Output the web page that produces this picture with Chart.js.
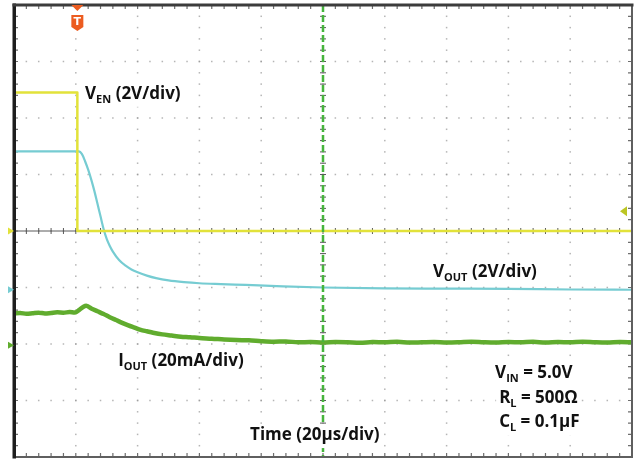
<!DOCTYPE html>
<html>
<head>
<meta charset="utf-8">
<script src="https://cdn.jsdelivr.net/npm/chart.js@4.4.0/dist/chart.umd.min.js"></script>
<style>
  html, body { margin: 0; padding: 0; background: #ffffff; }
  canvas { display: block; }
</style>
</head>
<body>
<canvas id="scope" width="637" height="462"></canvas>
<script>
// ---- Waveform capture: time in µs, 20 µs/div, 10 divisions ----
const timeRange = [0, 200];
const divisionsY = [-4, 4];

// CH1: enable voltage (V)
const enTime  = [0, 20.5, 20.5, 200];
const enVolts = [4.9, 4.9, 0, 0];

// CH2: output voltage (V)
const outTime  = [0, 21, 22, 23, 24, 25, 26, 27, 28, 29, 30, 31, 32, 34, 36, 38, 40, 43, 46, 50, 55, 60, 67, 75, 85, 100, 120, 140, 160, 180, 200];
const outVolts = [4.9, 4.9, 4.8, 4.55, 4.25, 3.9, 3.5, 3.05, 2.6, 2.15, 1.8, 1.55, 1.35, 1.05, 0.86, 0.72, 0.62, 0.5, 0.41, 0.33, 0.27, 0.23, 0.2, 0.17, 0.13, 0.08, 0.05, 0.04, 0.03, 0.01, 0.0];

// CH3: output current (mA)
const curTime = [0, 2, 4, 6, 8, 10, 12, 14, 16, 18, 20, 21, 22.5, 23.5, 25, 27, 29, 31, 33, 35, 37, 39, 41, 43, 45, 48, 51, 54, 57, 60, 64, 68, 72, 76, 80, 84, 88, 92, 96, 100, 104, 108, 112, 116, 120, 124, 128, 132, 136, 140, 144, 148, 152, 156, 160, 164, 168, 172, 176, 180, 184, 188, 192, 196, 200];
const curMilliamps = [11.2, 11.4, 11.1, 11.3, 11.5, 11.2, 11.4, 11.6, 11.5, 11.7, 11.6, 12.4, 13.6, 13.9, 13.0, 12.0, 11.0, 9.9, 8.9, 7.9, 7.0, 6.2, 5.4, 4.9, 4.4, 3.8, 3.4, 3.0, 2.8, 2.5, 2.3, 2.0, 1.8, 1.7, 1.4, 1.2, 1.3, 1.0, 1.1, 0.9, 1.1, 1.0, 0.8, 1.1, 1.0, 1.2, 0.9, 1.0, 1.1, 0.9, 1.0, 1.2, 1.0, 0.9, 1.1, 1.0, 1.2, 0.9, 1.1, 1.0, 1.2, 1.0, 0.9, 1.1, 1.0];

// Vertical settings per channel: units per division and ground position (div)
const channels = {
  en:  { perDiv: 2,  ground: 0,     color: 'rgb(226,226,58)' },
  out: { perDiv: 2,  ground: -1.04, color: 'rgb(118,204,210)' },
  cur: { perDiv: 20, ground: -2.02, color: 'rgb(96,172,46)' }
};

const triggerTime = 20.5;
const triggerLevelDiv = 0.35;

function toDivs(times, values, ch) {
  return times.map((t, i) => ({ x: t, y: values[i] / ch.perDiv + ch.ground }));
}

const labelFont = '"Open Sans", "Liberation Sans", sans-serif';
const labels = [
  { parts: [['V'], ['EN', 1], [' (2V/div)']], t: 23.0, d: 2.34 },
  { parts: [['V'], ['OUT', 1], [' (2V/div)']], t: 135.6, d: -0.81 },
  { parts: [['I'], ['OUT', 1], [' (20mA/div)']], t: 33.7, d: -2.39 },
  { parts: [['Time (20\u00b5s/div)']], t: 76.4, d: -3.70 },
  { parts: [['V'], ['IN', 1], [' = 5.0V']], t: 155.7, d: -2.60 },
  { parts: [['R'], ['L', 1], [' = 500\u03a9']], t: 157.0, d: -3.04 },
  { parts: [['C'], ['L', 1], [' = 0.1\u00b5F']], t: 157.0, d: -3.47 }
];

// Graticule: dotted division lines, ticked centre axes, ticked frame
const graticule = {
  id: 'graticule',
  beforeDatasetsDraw(chart) {
    const { ctx, chartArea: a, scales: { x, y } } = chart;
    const dx = (x.getPixelForValue(20) - x.getPixelForValue(0)) / 5;
    const dy = (y.getPixelForValue(0) - y.getPixelForValue(1)) / 5;
    ctx.save();
    ctx.fillStyle = 'rgba(150,150,150,0.7)';
    for (let t = 20; t < 200; t += 20) {
      const px = x.getPixelForValue(t);
      for (let py = a.top; py <= a.bottom; py += dy) ctx.fillRect(px - 0.75, py - 0.75, 1.5, 1.5);
    }
    for (let d = -3; d <= 3; d++) {
      const py = y.getPixelForValue(d);
      for (let px = a.left; px <= a.right; px += dx) ctx.fillRect(px - 0.75, py - 0.75, 1.5, 1.5);
    }
    // centre axes with minor ticks
    const cx = x.getPixelForValue(100), cy = y.getPixelForValue(0);
    ctx.strokeStyle = 'rgb(90,90,90)';
    ctx.lineWidth = 1;
    ctx.beginPath();
    ctx.moveTo(a.left, cy); ctx.lineTo(a.right, cy);
    for (let px = a.left; px <= a.right + 0.5; px += dx) { ctx.moveTo(px, cy - 3); ctx.lineTo(px, cy + 3); }
    for (let py = a.top; py <= a.bottom + 0.5; py += dy) { ctx.moveTo(cx - 3, py); ctx.lineTo(cx + 3, py); }
    ctx.stroke();
    // frame ticks
    ctx.strokeStyle = 'rgb(110,110,110)';
    ctx.lineWidth = 1.2;
    ctx.beginPath();
    for (let px = a.left; px <= a.right + 0.5; px += dx) {
      ctx.moveTo(px, a.top); ctx.lineTo(px, a.top + 4);
      ctx.moveTo(px, a.bottom); ctx.lineTo(px, a.bottom - 4);
    }
    for (let py = a.top; py <= a.bottom + 0.5; py += dy) {
      ctx.moveTo(a.left, py); ctx.lineTo(a.left + 4, py);
      ctx.moveTo(a.right, py); ctx.lineTo(a.right - 4, py);
    }
    ctx.stroke();
    ctx.restore();
  },
  afterDatasetsDraw(chart) {
    const { ctx, chartArea: a, scales: { x, y } } = chart;
    ctx.save();
    // trigger position line
    const cx = x.getPixelForValue(100);
    ctx.strokeStyle = 'rgb(70,180,60)';
    ctx.lineWidth = 2.5;
    ctx.setLineDash([7, 3]);
    ctx.beginPath(); ctx.moveTo(cx, a.top); ctx.lineTo(cx, a.bottom); ctx.stroke();
    ctx.setLineDash([]);
    // frame
    ctx.strokeStyle = 'rgb(95,95,95)';
    ctx.lineWidth = 2;
    ctx.strokeRect(a.left, a.top, a.right - a.left, a.bottom - a.top);
    ctx.fillStyle = 'rgb(30,30,30)';
    ctx.fillRect(a.left - 1.5, a.top - 1.5, 3.5, a.bottom - a.top + 3);
    ctx.fillStyle = 'rgb(60,60,60)';
    ctx.fillRect(a.left - 1.5, a.top - 1.5, a.right - a.left + 3, 3);
    // trigger marker
    const tx = x.getPixelForValue(triggerTime);
    ctx.fillStyle = 'rgb(236,92,32)';
    ctx.beginPath(); ctx.moveTo(tx - 6, a.top); ctx.lineTo(tx + 6, a.top); ctx.lineTo(tx, a.top + 6); ctx.closePath(); ctx.fill();
    ctx.beginPath();
    ctx.moveTo(tx - 6, a.top + 10); ctx.lineTo(tx + 6, a.top + 10);
    ctx.lineTo(tx + 6, a.top + 22); ctx.lineTo(tx, a.top + 26); ctx.lineTo(tx - 6, a.top + 22);
    ctx.closePath(); ctx.fill();
    ctx.fillStyle = '#ffffff';
    ctx.font = 'bold 11px "DejaVu Sans", sans-serif';
    ctx.textAlign = 'center'; ctx.textBaseline = 'middle';
    ctx.fillText('T', tx, a.top + 17);
    // trigger level marker
    const ly = y.getPixelForValue(triggerLevelDiv);
    ctx.fillStyle = 'rgb(188,198,36)';
    ctx.beginPath(); ctx.moveTo(a.right - 12, ly); ctx.lineTo(a.right - 5, ly - 5); ctx.lineTo(a.right - 5, ly + 5); ctx.closePath(); ctx.fill();
    // channel ground markers
    for (const ch of [channels.en, channels.out, channels.cur]) {
      const gy = y.getPixelForValue(ch.ground);
      ctx.fillStyle = ch.color;
      ctx.beginPath(); ctx.moveTo(a.left - 6, gy - 3.5); ctx.lineTo(a.left, gy); ctx.lineTo(a.left - 6, gy + 3.5); ctx.closePath(); ctx.fill();
    }
    // annotations
    const size = 17, sub = 11;
    for (const lab of labels) {
      let px = x.getPixelForValue(lab.t);
      const py = y.getPixelForValue(lab.d);
      let w = 0;
      for (const [s, isSub] of lab.parts) {
        ctx.font = `700 ${isSub ? sub : size}px ${labelFont}`;
        w += ctx.measureText(s).width;
      }
      ctx.fillStyle = '#ffffff';
      ctx.fillRect(px - 3, py - size + 1, w + 6, size + 7);
      ctx.fillStyle = '#111111';
      ctx.textAlign = 'left'; ctx.textBaseline = 'alphabetic';
      for (const [s, isSub] of lab.parts) {
        ctx.font = `700 ${isSub ? sub : size}px ${labelFont}`;
        ctx.fillText(s, px, isSub ? py + 4 : py);
        px += ctx.measureText(s).width;
      }
    }
    ctx.restore();
  }
};

new Chart(document.getElementById('scope'), {
  type: 'line',
  data: {
    datasets: [
      { label: 'V_EN', data: toDivs(enTime, enVolts, channels.en), borderColor: channels.en.color, borderWidth: 2.5, tension: 0 },
      { label: 'V_OUT', data: toDivs(outTime, outVolts, channels.out), borderColor: channels.out.color, borderWidth: 2.2, cubicInterpolationMode: 'monotone' },
      { label: 'I_OUT', data: toDivs(curTime, curMilliamps, channels.cur), borderColor: channels.cur.color, borderWidth: 4.5, tension: 0.3 }
    ]
  },
  options: {
    responsive: false,
    animation: false,
    parsing: false,
    layout: { padding: { left: 14, top: 5, right: 5, bottom: 5 } },
    elements: { point: { radius: 0 }, line: { borderJoinStyle: 'round', borderCapStyle: 'round' } },
    plugins: { legend: { display: false }, tooltip: { enabled: false } },
    scales: {
      x: { type: 'linear', display: false, min: timeRange[0], max: timeRange[1] },
      y: { type: 'linear', display: false, min: divisionsY[0], max: divisionsY[1] }
    }
  },
  plugins: [graticule]
});
</script>
</body>
</html>
